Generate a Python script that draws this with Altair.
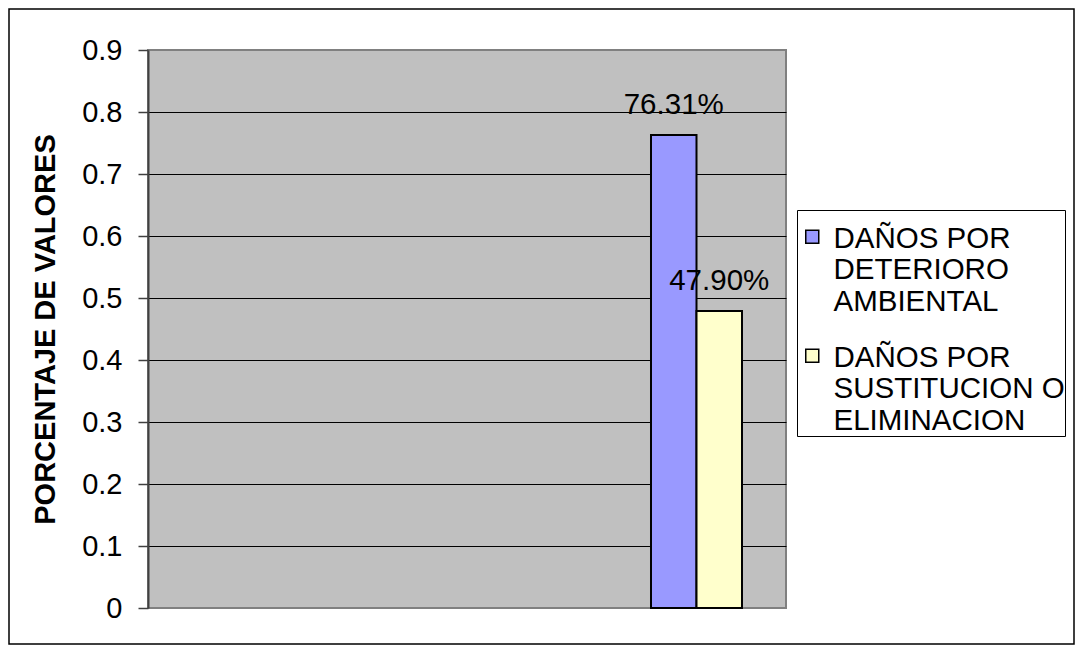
import altair as alt
import pandas as pd

# ---- data ----
x_domain = ["c1", "c2", "c3"]          # category slots of the x axis (only the last holds data)
categories = ["c3"]
series = ["DAÑOS POR DETERIORO AMBIENTAL", "DAÑOS POR SUSTITUCION O ELIMINACION"]
series_lines = [["DAÑOS POR", "DETERIORO", "AMBIENTAL"],
                ["DAÑOS POR", "SUSTITUCION O", "ELIMINACION"]]
values = [0.7631, 0.4790]
colors = ["#9999FF", "#FFFFCC"]
y_ticks = [0, 0.1, 0.2, 0.3, 0.4, 0.5, 0.6, 0.7, 0.8, 0.9]
y_title = "PORCENTAJE DE VALORES"

FONT = "Liberation Sans"

df = pd.DataFrame({
    "categoria": [categories[0]] * len(series),
    "serie": series,
    "valor": values,
})

# legend label wrapping expression
label_expr = " : ".join(
    f"datum.label == '{s}' ? [" + ",".join(f"'{l}'" for l in lines) + "]"
    for s, lines in zip(series, series_lines)
) + " : datum.label"

x_enc = alt.X("categoria:N",
              scale=alt.Scale(domain=x_domain, paddingInner=0.5,
                              paddingOuter=0.50275, align=0.75956),
              axis=None)
xoff_enc = alt.XOffset("serie:N", sort=series,
                       scale=alt.Scale(paddingInner=0, paddingOuter=0))
y_enc = alt.Y("valor:Q",
              scale=alt.Scale(domain=[0, 0.9], nice=False, zero=True),
              axis=alt.Axis(
                  values=y_ticks, format=".1~f", title=y_title,
                  labelFont=FONT, labelFontSize=29, labelColor="black",
                  labelPadding=16,
                  tickSize=10, tickColor="#404040", tickWidth=1.5,
                  domainColor="#404040", domainWidth=2,
                  grid=True, gridWidth=1,
                  gridColor={"condition": {"test": "datum.value < 0.001 || datum.value > 0.899",
                                           "value": "#808080"},
                             "value": "black"},
                  titleFont=FONT, titleFontSize=29, titleFontWeight="bold",
                  titleColor="black", titleX=-103, titleY=279,
                  titleAlign="center", titleBaseline="middle", titleAngle=270,
              ))

base = alt.Chart(df)

bars = base.mark_bar(stroke="black", strokeWidth=2).encode(
    x=x_enc,
    xOffset=xoff_enc,
    y=y_enc,
    color=alt.Color("serie:N", sort=series,
                    scale=alt.Scale(domain=series, range=colors),
                    legend=alt.Legend(
                        orient="none", legendX=649, legendY=160, title=None,
                        strokeColor="black", fillColor="white", padding=0,
                        symbolType="M-1,0.85H1V2.85H-1Z", symbolSize=169,
                        symbolOffset=0.5,
                        symbolStrokeColor="black", symbolStrokeWidth=1.5,
                        symbolOpacity=1,
                        labelFont=FONT, labelFontSize=29.5, labelColor="black",
                        labelLimit=400, labelOffset=6.5, labelBaseline="top",
                        rowPadding=12, labelExpr=label_expr,
                    )),
)

labels = base.mark_text(dy=-21, baseline="alphabetic", align="center",
                        font=FONT, fontSize=29.5, color="black").encode(
    x=x_enc,
    xOffset=xoff_enc,
    y=alt.Y("valor:Q"),
    text=alt.Text("valor:Q", format=".2%"),
)

border = alt.Chart(pd.DataFrame({"k": [0]})).mark_rect(
    filled=False, stroke="black", strokeWidth=1.5
).encode(
    x=alt.value(-139), x2=alt.value(926),
    y=alt.value(-41), y2=alt.value(594),
)

chart = alt.layer(bars, labels, border).properties(
    width=638, height=558,
    autosize=alt.AutoSizeParams(type="none"),
    padding={"left": 140, "top": 42, "right": 289, "bottom": 37},
    background="white",
).configure_view(
    fill="#C0C0C0", stroke="#808080", strokeWidth=2,
)

chart.save("out.html", embed_options={"renderer": "svg", "actions": False})
